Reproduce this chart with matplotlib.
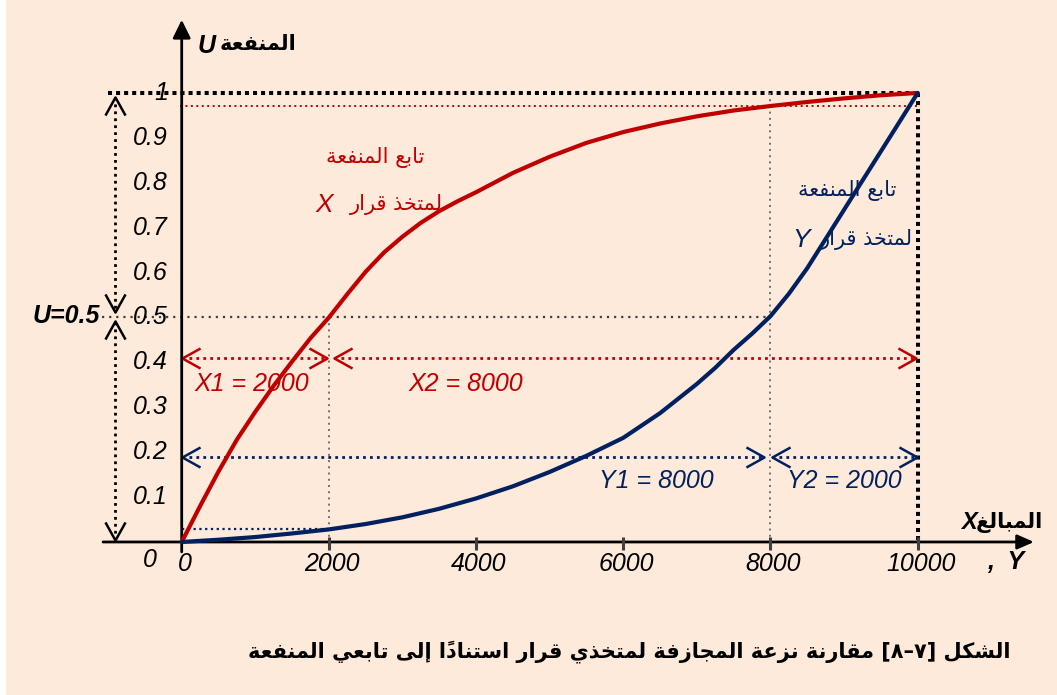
import numpy as np
import matplotlib
matplotlib.use('Agg')
import matplotlib.pyplot as plt
from matplotlib.path import Path
from matplotlib.patches import Rectangle

# utility of decision maker X (red) and Y (blue)
red_x = [0, 250, 500, 750, 1000, 1250, 1500, 1750, 2000, 2250, 2500, 2750, 3000, 3250,
         3500, 3750, 4000, 4500, 5000, 5500, 6000, 6500, 7000, 7500, 8000, 8500, 9000,
         9500, 10000]
red_u = [0, 0.08, 0.157, 0.228, 0.29, 0.348, 0.402, 0.454, 0.50, 0.552, 0.602, 0.645,
         0.680, 0.711, 0.737, 0.759, 0.779, 0.822, 0.858, 0.889, 0.913, 0.932, 0.948,
         0.961, 0.971, 0.980, 0.988, 0.995, 1.0]
blue_x = [0, 500, 1000, 1500, 2000, 2500, 3000, 3500, 4000, 4500, 5000, 5500, 6000, 6500,
          7000, 7250, 7500, 7750, 8000, 8250, 8500, 8750, 9000, 9250, 9500, 9750, 10000]
blue_u = [0, 0.005, 0.011, 0.019, 0.028, 0.040, 0.055, 0.074, 0.097, 0.124, 0.156, 0.192,
          0.232, 0.287, 0.352, 0.388, 0.428, 0.464, 0.503, 0.553, 0.61, 0.675, 0.74,
          0.805, 0.87, 0.935, 1.0]

x_ticks = [0, 2000, 4000, 6000, 8000, 10000]
x_tick_labels = ['0', '2000', '4000', '6000', '8000', '10000']
y_ticks = [0.1, 0.2, 0.3, 0.4, 0.5, 0.6, 0.7, 0.8, 0.9, 1.0]
y_tick_labels = ['0.1', '0.2', '0.3', '0.4', '0.5', '0.6', '0.7', '0.8', '0.9', '1']

x_split = 2000        # X1 / X2 split
y_split = 8000        # Y1 / Y2 split
x_max = 10000
u_half = 0.5
u_red_top = 0.971     # red utility at 8000
u_blue_low = 0.029    # blue utility at 2000
u_red_arrows = 0.41
u_blue_arrows = 0.19

RED = '#C00000'
BLUE = '#002060'
BG = '#FDEADB'

# ---- minimal arabic shaping (presentation forms, visual order) ----
FORMS = {
    '\u0627': ('\uFE8D', '\uFE8E'), '\u0625': ('\uFE87', '\uFE88'),
    '\u0628': ('\uFE8F', '\uFE90', '\uFE91', '\uFE92'), '\u0629': ('\uFE93', '\uFE94'),
    '\u062A': ('\uFE95', '\uFE96', '\uFE97', '\uFE98'), '\u062C': ('\uFE9D', '\uFE9E', '\uFE9F', '\uFEA0'),
    '\u062E': ('\uFEA5', '\uFEA6', '\uFEA7', '\uFEA8'), '\u062F': ('\uFEA9', '\uFEAA'),
    '\u0630': ('\uFEAB', '\uFEAC'), '\u0631': ('\uFEAD', '\uFEAE'), '\u0632': ('\uFEAF', '\uFEB0'),
    '\u0633': ('\uFEB1', '\uFEB2', '\uFEB3', '\uFEB4'), '\u0634': ('\uFEB5', '\uFEB6', '\uFEB7', '\uFEB8'),
    '\u0639': ('\uFEC9', '\uFECA', '\uFECB', '\uFECC'), '\u063A': ('\uFECD', '\uFECE', '\uFECF', '\uFED0'),
    '\u0641': ('\uFED1', '\uFED2', '\uFED3', '\uFED4'), '\u0642': ('\uFED5', '\uFED6', '\uFED7', '\uFED8'),
    '\u0643': ('\uFED9', '\uFEDA', '\uFEDB', '\uFEDC'), '\u0644': ('\uFEDD', '\uFEDE', '\uFEDF', '\uFEE0'),
    '\u0645': ('\uFEE1', '\uFEE2', '\uFEE3', '\uFEE4'), '\u0646': ('\uFEE5', '\uFEE6', '\uFEE7', '\uFEE8'),
    '\u0649': ('\uFEEF', '\uFEF0'), '\u064A': ('\uFEF1', '\uFEF2', '\uFEF3', '\uFEF4'),
}
MARKS = set(chr(c) for c in range(0x064B, 0x0653))


def ar(text):
    chars = list(text)
    letters = [i for i, c in enumerate(chars) if c not in MARKS]
    out = []
    for k, i in enumerate(letters):
        c = chars[i]
        if c not in FORMS:
            out.append([c])
            continue
        prev = chars[letters[k - 1]] if k > 0 else None
        nxt = chars[letters[k + 1]] if k + 1 < len(letters) else None
        f = FORMS[c]
        jp = prev in FORMS and len(FORMS[prev]) == 4
        jn = nxt in FORMS and len(f) == 4
        if jp and jn:
            g = f[3]
        elif jp:
            g = f[1]
        elif jn:
            g = f[2]
        else:
            g = f[0]
        out.append([g])
    # attach marks to their base letter, then reverse into visual order
    clusters = []
    for k, i in enumerate(letters):
        end = letters[k + 1] if k + 1 < len(letters) else len(chars)
        clusters.append(out[k] + [m for m in chars[i + 1:end] if m in MARKS])
    return ''.join(''.join(c) for c in reversed(clusters))


plt.rcParams['font.family'] = ['Liberation Sans', 'DejaVu Sans']

fig = plt.figure(figsize=(10.57, 6.95), dpi=100, facecolor=BG)
fig.patches.append(Rectangle((0, 0), 5 / 1057, 1, transform=fig.transFigure,
                             color='white', zorder=0))
ax = fig.add_axes([0, 0, 1, 1])
ax.set_xlim(-2469, 11893)
ax.set_ylim(-0.3408, 1.2071)
ax.axis('off')


def chevron(direction):
    v = {'right': [(-1.8, 1), (0, 0), (-1.8, -1)],
         'left': [(1.8, 1), (0, 0), (1.8, -1)],
         'up': [(1, -1.8), (0, 0), (-1, -1.8)],
         'down': [(1, 1.8), (0, 0), (-1, 1.8)]}[direction]
    return Path(v, [Path.MOVETO, Path.LINETO, Path.LINETO])


def dotted_arrow(x0, y0, x1, y1, color, heads):
    ax.plot([x0, x1], [y0, y1], color=color, lw=2, ls=(0, (1, 1.5)), zorder=3)
    for (hx, hy), d in heads:
        ax.plot([hx], [hy], marker=chevron(d), ms=26, mfc='none', mec=color,
                mew=1.8, ls='none', zorder=3)


# axes with arrows
ax.annotate('', xy=(11580, 0), xytext=(-1069, 0),
            arrowprops=dict(arrowstyle='-|>,head_length=0.5,head_width=0.22',
                            lw=2, color='black', mutation_scale=20,
                            shrinkA=0, shrinkB=0), zorder=4)
ax.annotate('', xy=(0, 1.163), xytext=(0, -0.022),
            arrowprops=dict(arrowstyle='-|>,head_length=0.55,head_width=0.27',
                            lw=2, color='black', mutation_scale=20,
                            shrinkA=0, shrinkB=0), zorder=4)
ax.vlines(x_ticks[1:], -0.018, 0.011, color='#404040', lw=2.2, zorder=4)

# reference lines
ax.plot([-1000, x_max], [1, 1], color='black', lw=2.9, ls=(0, (1, 1)), zorder=2)
ax.plot([x_max, x_max], [1, 0], color='black', lw=2.9, ls=(0, (1, 1)), zorder=2)
ax.plot([-20, x_max], [u_red_top, u_red_top], color=RED, lw=1.4, ls=(0, (1, 1.8)), zorder=2)
ax.plot([0, x_split], [u_blue_low, u_blue_low], color=BLUE, lw=1.6, ls=(0, (1, 1.6)), zorder=2)
ax.plot([-1080, y_split], [u_half, u_half], color='#404040', lw=1.6, ls=(0, (1, 2.2)), zorder=2)
ax.plot([x_split, x_split], [u_half, 0], color='#707070', lw=1.4, ls=(0, (1, 2.2)), zorder=2)
ax.plot([y_split, y_split], [1, 0], color='#707070', lw=1.4, ls=(0, (1, 2.2)), zorder=2)

# utility curves
ax.plot(red_x, red_u, color=RED, lw=3, zorder=5, solid_capstyle='round', solid_joinstyle='round')
ax.plot(blue_x, blue_u, color=BLUE, lw=3, zorder=5, solid_capstyle='round', solid_joinstyle='round')

# measuring arrows
dotted_arrow(0, u_red_arrows, 1970, u_red_arrows, RED,
             [((0, u_red_arrows), 'left'), ((1970, u_red_arrows), 'right')])
dotted_arrow(2070, u_red_arrows, 9976, u_red_arrows, RED,
             [((2070, u_red_arrows), 'left'), ((9976, u_red_arrows), 'right')])
dotted_arrow(0, u_blue_arrows, 7912, u_blue_arrows, BLUE,
             [((0, u_blue_arrows), 'left'), ((7912, u_blue_arrows), 'right')])
dotted_arrow(8016, u_blue_arrows, 9986, u_blue_arrows, BLUE,
             [((8016, u_blue_arrows), 'left'), ((9986, u_blue_arrows), 'right')])
dotted_arrow(-906, 0.99, -906, 0.512, 'black',
             [((-906, 0.99), 'up'), ((-906, 0.512), 'down')])
dotted_arrow(-906, 0.49, -906, 0.004, 'black',
             [((-906, 0.492), 'up'), ((-906, 0.004), 'down')])

# tick labels
for v, s in zip(y_ticks, y_tick_labels):
    ax.text(-186, v, s, ha='right', va='center', fontsize=18, style='italic')
ax.text(-431, -0.04, '0', ha='center', va='center', fontsize=18, style='italic')
for v, s in zip(x_ticks, x_tick_labels):
    ax.text(v + 40, -0.049, s, ha='center', va='center', fontsize=18, style='italic')

# annotations
kw = dict(ha='center', va='center', fontsize=18, style='italic')
ax.text(957, 0.352, 'X1 = 2000', color=RED, **kw)
ax.text(3863, 0.352, 'X2 = 8000', color=RED, **kw)
ax.text(6444, 0.136, 'Y1 = 8000', color=BLUE, **kw)
ax.text(9000, 0.136, 'Y2 = 2000', color=BLUE, **kw)
ax.text(-1110, 0.503, 'U=0.5', ha='right', va='center', fontsize=18,
        style='italic', weight='bold')

akw = dict(ha='center', va='center', family='DejaVu Sans')
ax.text(2627, 0.857, ar('تابع المنفعة'), color=RED, fontsize=15, **akw)
ax.text(2912, 0.751, ar('لمتخذ قرار'), color=RED, fontsize=15, **akw)
ax.text(1933, 0.751, 'X', color=RED, fontsize=19, ha='center', va='center', style='italic')
ax.text(9040, 0.782, ar('تابع المنفعة'), color=BLUE, fontsize=15, **akw)
ax.text(9297, 0.673, ar('لمتخذ قرار'), color=BLUE, fontsize=15, **akw)
ax.text(8414, 0.673, 'Y', color=BLUE, fontsize=19, ha='center', va='center', style='italic')

# axis titles
ax.text(340, 1.105, 'U', fontsize=18, ha='center', va='center', style='italic', weight='bold')
ax.text(1040, 1.109, ar('المنفعة'), fontsize=15, weight='bold', **akw)
ax.text(11250, 0.0445, ar('المبالغ'), fontsize=15, weight='bold', **akw)
ax.text(10700, 0.0445, 'X', fontsize=17, ha='center', va='center', style='italic', weight='bold')
ax.text(11200, -0.045, ',  Y', fontsize=18, ha='center', va='center', style='italic', weight='bold')

caption = (ar('مقارنة نزعة المجازفة لمتخذي قرار استناداً إلى تابعي المنفعة')
           + ' [\u0668\u2013\u0667] ' + ar('الشكل'))
ax.text(6080, -0.245, caption, fontsize=15, weight='bold', **akw)

fig.savefig('out.png', dpi=100, facecolor=BG)
